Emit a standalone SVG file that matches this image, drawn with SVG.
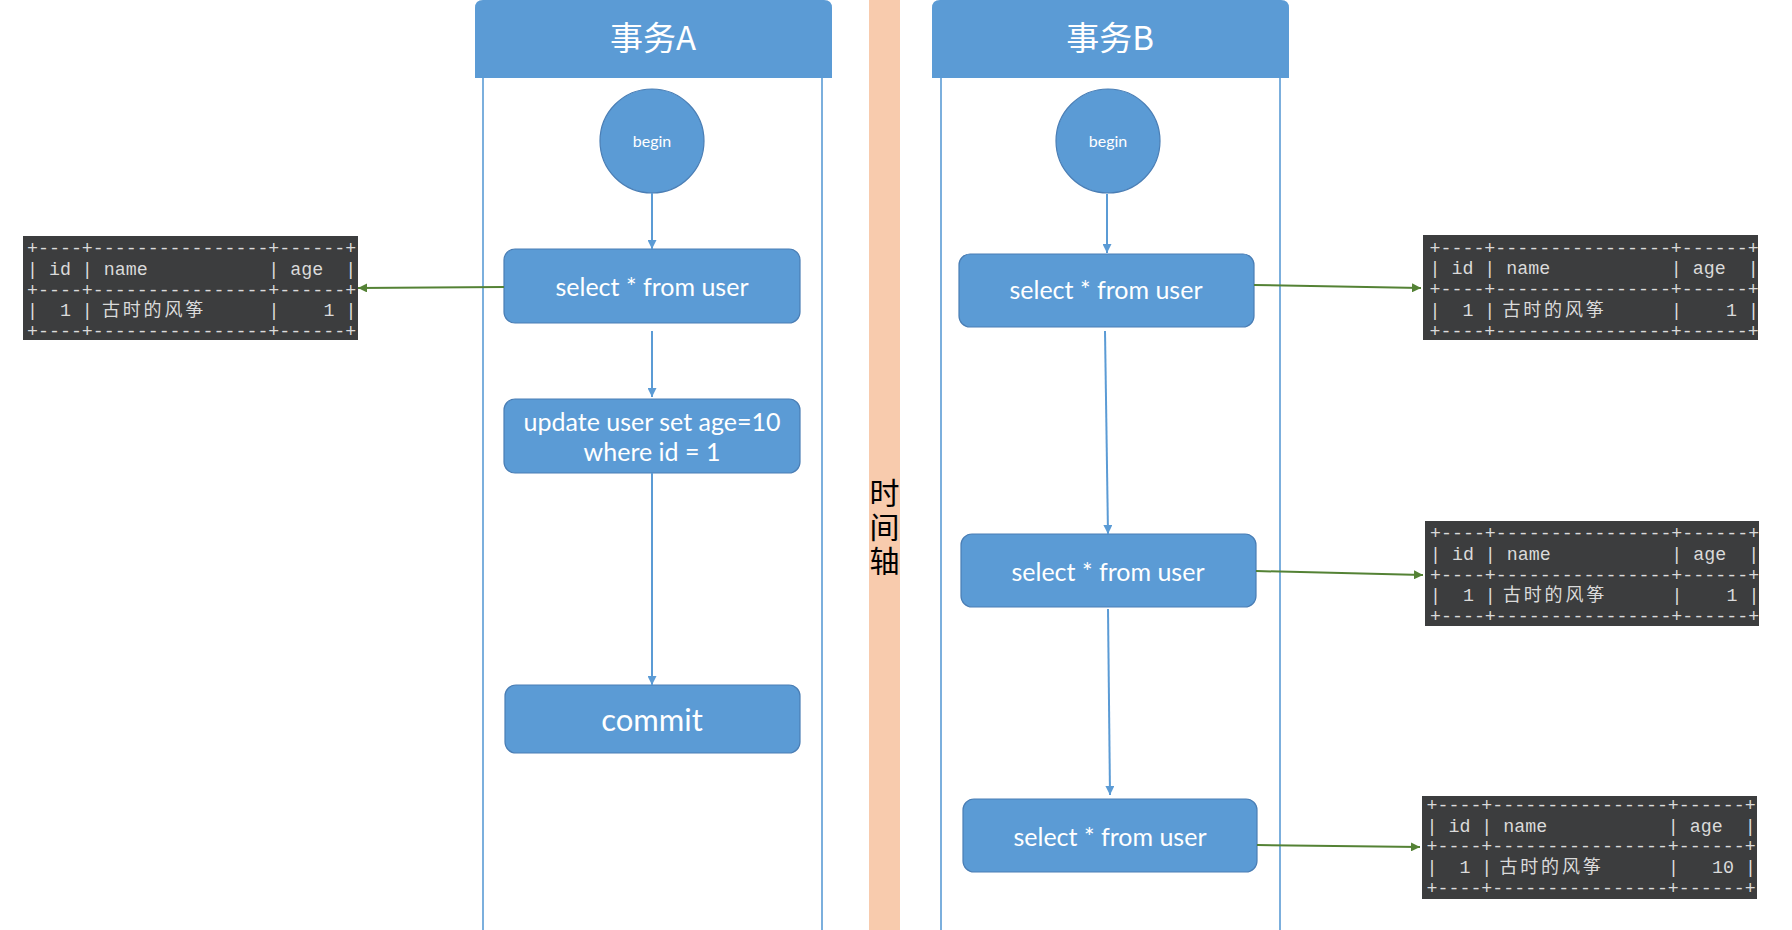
<svg xmlns="http://www.w3.org/2000/svg" width="1792" height="930" viewBox="0 0 1792 930">
<style>
.hdr{fill:#5B9BD5;}
.hdrt{fill:#fff;font-family:"Noto Sans CJK SC","Noto Sans",sans-serif;font-size:33px;text-anchor:middle;}
.lane{stroke:#5B9BD5;stroke-width:1.6;fill:none;}
.circ{fill:#5B9BD5;stroke:#4A7EB5;stroke-width:1.2;}
.box{fill:#5B9BD5;stroke:#4A7EB5;stroke-width:1.2;}
.bt{fill:#fff;font-family:Lato,"Open Sans",sans-serif;text-anchor:middle;}
.tbl{fill:#3C3D3E;}
.tt{fill:#DADADA;font-family:"Liberation Mono",monospace;font-size:18.3px;white-space:pre;}
.cjk{fill:#DADADA;font-family:"Noto Sans CJK SC",sans-serif;font-size:18px;}
.ba{stroke:#5B9BD5;stroke-width:2;fill:none;marker-end:url(#ab);}
.ga{stroke:#548235;stroke-width:2;fill:none;marker-end:url(#ag);}
.axis{fill:#000;font-family:"Noto Sans CJK SC",sans-serif;font-size:30px;text-anchor:middle;writing-mode:vertical-rl;letter-spacing:4px;}
</style>
<defs>
<marker id="ab" viewBox="0 0 10 10" refX="10" refY="5" markerWidth="9" markerHeight="9" markerUnits="userSpaceOnUse" orient="auto"><path d="M0,0 L10,5 L0,10 z" fill="#5B9BD5"/></marker>
<marker id="ag" viewBox="0 0 10 10" refX="10" refY="5" markerWidth="9" markerHeight="9" markerUnits="userSpaceOnUse" orient="auto"><path d="M0,0 L10,5 L0,10 z" fill="#548235"/></marker>
</defs>
<rect width="1792" height="930" fill="#fff"/>

<g id="timeline">
<rect x="869" y="0" width="31" height="930" fill="#F8CBAD"/>
<text class="axis" x="884.5" y="529">时间轴</text>
</g>

<g id="laneA">
<path class="hdr" d="M475,78 V8 Q475,0 483,0 H824 Q832,0 832,8 V78 Z"/>
<text class="hdrt" x="653" y="50">事务A</text>
<line class="lane" x1="483" y1="78" x2="483" y2="930"/>
<line class="lane" x1="822" y1="78" x2="822" y2="930"/>
</g>
<g id="laneB">
<path class="hdr" d="M932,78 V8 Q932,0 940,0 H1281 Q1289,0 1289,8 V78 Z"/>
<text class="hdrt" x="1110" y="50">事务B</text>
<line class="lane" x1="941" y1="78" x2="941" y2="930"/>
<line class="lane" x1="1280" y1="78" x2="1280" y2="930"/>
</g>

<g id="beginA"><circle class="circ" cx="652" cy="141" r="52"/><text class="bt" x="652" y="147" font-size="16">begin</text></g>
<g id="selectA"><rect class="box" x="504" y="249" width="296" height="74" rx="11"/><text class="bt" x="652" y="296" font-size="25">select * from user</text></g>
<g id="updateA"><rect class="box" x="504" y="399" width="296" height="74" rx="11"/><text class="bt" x="652" y="431" font-size="25">update user set age=10</text><text class="bt" x="652" y="461" font-size="25">where id = 1</text></g>
<g id="commitA"><rect class="box" x="505" y="685" width="295" height="68" rx="11"/><text class="bt" x="652" y="731" font-size="31">commit</text></g>

<g id="beginB"><circle class="circ" cx="1108" cy="141" r="52"/><text class="bt" x="1108" y="147" font-size="16">begin</text></g>
<g id="selectB1"><rect class="box" x="959" y="254" width="295" height="73" rx="11"/><text class="bt" x="1106" y="299" font-size="25">select * from user</text></g>
<g id="selectB2"><rect class="box" x="961" y="534" width="295" height="73" rx="11"/><text class="bt" x="1108" y="581" font-size="25">select * from user</text></g>
<g id="selectB3"><rect class="box" x="963" y="799" width="294" height="73" rx="11"/><text class="bt" x="1110" y="846" font-size="25">select * from user</text></g>

<g id="tableL" transform="translate(23,236)">
<rect class="tbl" width="335" height="104"/>
<text class="tt" x="4" y="18">+----+----------------+------+</text>
<text class="tt" x="4" y="38.8">| id | name           | age  |</text>
<text class="tt" x="4" y="59.6">+----+----------------+------+</text>
<text class="tt" x="4" y="80.4">|  1 |</text>
<text class="cjk" x="79 99.8 120.6 141.4 162.2" y="80.4">古时的风筝</text>
<text class="tt" x="245.6" y="80.4">|    1 |</text>
<text class="tt" x="4" y="101.2">+----+----------------+------+</text>
</g>

<g id="tableR1" transform="translate(1423,235)">
<rect class="tbl" width="335" height="105"/>
<text class="tt" x="6.5" y="18.5">+----+----------------+------+</text>
<text class="tt" x="6.5" y="39.3">| id | name           | age  |</text>
<text class="tt" x="6.5" y="60.1">+----+----------------+------+</text>
<text class="tt" x="6.5" y="80.9">|  1 |</text>
<text class="cjk" x="79.5 100.3 121.1 141.9 162.7" y="80.9">古时的风筝</text>
<text class="tt" x="248.1" y="80.9">|    1 |</text>
<text class="tt" x="6.5" y="101.7">+----+----------------+------+</text>
</g>

<g id="tableR2" transform="translate(1425,521)">
<rect class="tbl" width="334" height="105"/>
<text class="tt" x="5" y="18">+----+----------------+------+</text>
<text class="tt" x="5" y="38.8">| id | name           | age  |</text>
<text class="tt" x="5" y="59.6">+----+----------------+------+</text>
<text class="tt" x="5" y="80.4">|  1 |</text>
<text class="cjk" x="78 98.8 119.6 140.4 161.2" y="80.4">古时的风筝</text>
<text class="tt" x="246.6" y="80.4">|    1 |</text>
<text class="tt" x="5" y="101.2">+----+----------------+------+</text>
</g>

<g id="tableR3" transform="translate(1422,796)">
<rect class="tbl" width="335" height="103"/>
<text class="tt" x="4.5" y="15">+----+----------------+------+</text>
<text class="tt" x="4.5" y="35.7">| id | name           | age  |</text>
<text class="tt" x="4.5" y="56.4">+----+----------------+------+</text>
<text class="tt" x="4.5" y="77.1">|  1 |</text>
<text class="cjk" x="77.5 98.3 119.1 139.9 160.7" y="77.1">古时的风筝</text>
<text class="tt" x="246.1" y="77.1">|   10 |</text>
<text class="tt" x="4.5" y="97.8">+----+----------------+------+</text>
</g>

<g id="connectors">
<line class="ba" x1="652" y1="193" x2="652" y2="249"/>
<line class="ba" x1="652" y1="331" x2="652" y2="397"/>
<line class="ba" x1="652" y1="473" x2="652" y2="685"/>
<line class="ba" x1="1107" y1="194" x2="1107" y2="253"/>
<line class="ba" x1="1105" y1="331" x2="1108" y2="534"/>
<line class="ba" x1="1108" y1="609" x2="1110" y2="795"/>
<line class="ga" x1="504" y1="287" x2="358" y2="288"/>
<line class="ga" x1="1254" y1="285" x2="1421" y2="288"/>
<line class="ga" x1="1256" y1="571" x2="1423" y2="575"/>
<line class="ga" x1="1257" y1="845" x2="1420" y2="847"/>
</g>
</svg>
